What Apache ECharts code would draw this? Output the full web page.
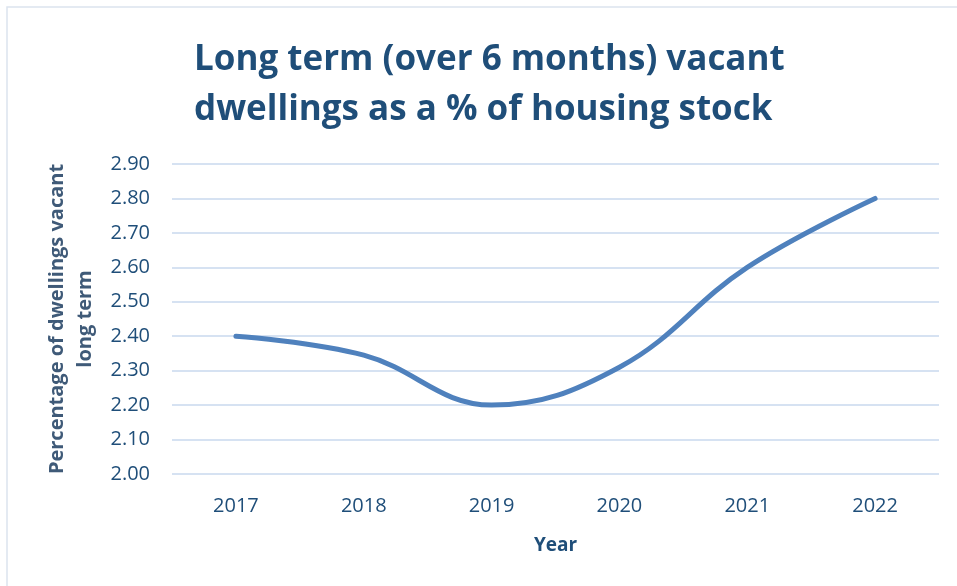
<!DOCTYPE html>
<html>
<head>
<meta charset="utf-8">
<style>
  html, body { margin: 0; padding: 0; background: #fff; }
  #chart { width: 957px; height: 586px; }
</style>
<script src="https://cdn.jsdelivr.net/npm/echarts@6/dist/echarts.min.js"></script>
</head>
<body>
<div id="chart"></div>
<script>
const years = ["2017", "2018", "2019", "2020", "2021", "2022"];
const vacantPct = [2.40, 2.345, 2.20, 2.31, 2.60, 2.80];

const navy = "#1F4E79";
const font = "'Open Sans', sans-serif";

const chart = echarts.init(document.getElementById("chart"));

const option = {
  backgroundColor: "#fff",
  animation: false,
  graphic: [
    {
      type: "rect",
      shape: { x: 7, y: 7, width: 1000, height: 700 },
      style: { fill: "none", stroke: "#DCE4EE", lineWidth: 1.5 },
      silent: true
    }
  ],
  title: {
    text: "Long term (over 6 months) vacant\ndwellings as a % of housing stock",
    left: 189,
    top: 30,
    textStyle: {
      color: navy,
      fontFamily: font,
      fontWeight: "bold",
      fontSize: 35,
      lineHeight: 50
    },
    textAlign: "left"
  },
  grid: {
    left: 172,
    right: 18,
    top: 164,
    bottom: 112
  },
  xAxis: {
    type: "category",
    data: years,
    boundaryGap: true,
    name: "Year",
    nameLocation: "middle",
    nameGap: 62,
    nameTextStyle: { color: navy, fontFamily: font, fontWeight: "bold", fontSize: 19 },
    axisLine: { show: false },
    axisTick: { show: false },
    axisLabel: { color: navy, fontFamily: font, fontSize: 20, margin: 22 }
  },
  yAxis: {
    type: "value",
    min: 2.0,
    max: 2.9,
    interval: 0.1,
    name: "Percentage of dwellings vacant\nlong term",
    nameLocation: "middle",
    nameRotate: 90,
    nameGap: 72,
    nameTextStyle: { color: "#3F5A78", fontFamily: font, fontWeight: "bold", fontSize: 20, lineHeight: 28 },
    axisLine: { show: false },
    axisTick: { show: false },
    axisLabel: {
      color: navy,
      fontFamily: font,
      fontSize: 20,
      margin: 22,
      formatter: v => v.toFixed(2)
    },
    splitLine: { lineStyle: { color: "#D6E2F2", width: 2 } }
  },
  series: [
    {
      type: "line",
      data: vacantPct,
      smooth: 0.4,
      symbol: "none",
      lineStyle: { color: "#4F81BD", width: 5, cap: "round" }
    }
  ]
};

chart.setOption(option);
</script>
</body>
</html>
